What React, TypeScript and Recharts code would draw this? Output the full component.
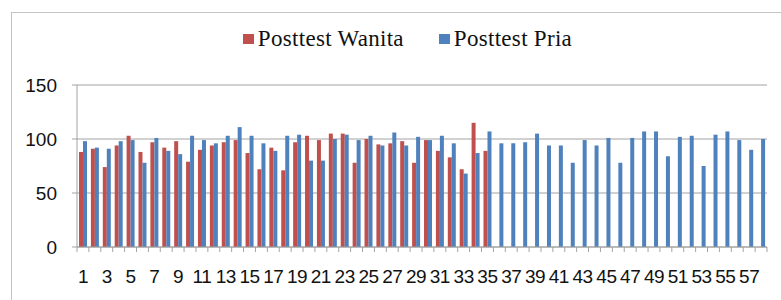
import { BarChart, Bar, XAxis, YAxis, CartesianGrid, Legend } from "recharts";

const categories = Array.from({ length: 58 }, (_, i) => String(i + 1));

const posttestWanita = [
  88, 91, 74, 94, 103, 88, 97, 92, 98, 79, 90, 94, 97, 99, 87, 72, 92, 71, 97, 103,
  99, 105, 105, 78, 100, 95, 96, 98, 78, 99, 89, 83, 72, 115, 89,
];

const posttestPria = [
  98, 92, 91, 98, 99, 78, 101, 89, 86, 103, 99, 96, 103, 111, 103, 96, 89, 103, 104, 80,
  80, 100, 104, 99, 103, 94, 106, 94, 102, 99, 103, 96, 68, 87, 107, 96, 96, 97, 105, 94,
  94, 78, 99, 94, 101, 78, 101, 107, 107, 84, 102, 103, 75, 104, 107, 99, 90, 100,
];

const yTicks = [0, 50, 100, 150];

const data = categories.map((c, i) => ({
  name: c,
  wanita: i < posttestWanita.length ? posttestWanita[i] : null,
  pria: posttestPria[i],
}));

const W = 781;
const H = 300;
const LEFT = 77;
const RIGHT = 14;
const BAND = (W - LEFT - RIGHT) / categories.length;
const GRAY = "#a3a3a3";

const XTick = (props: any) => {
  const { x, y, payload, index } = props;
  return (
    <g>
      {index === 0 && <line x1={x - BAND / 2} x2={x - BAND / 2} y1={y} y2={y + 5} stroke={GRAY} />}
      <line x1={x + BAND / 2} x2={x + BAND / 2} y1={y} y2={y + 5} stroke={GRAY} />
      {index % 2 === 0 && (
        <text x={x} y={y + 36} textAnchor="middle" fontSize={19} fontFamily="Liberation Sans" fill="#111" letterSpacing={-0.5}>
          {payload.value}
        </text>
      )}
    </g>
  );
};

const LegendBox = () => (
  <div
    style={{
      display: "flex",
      justifyContent: "center",
      alignItems: "center",
      fontFamily: "Liberation Serif",
      fontSize: 23,
      letterSpacing: 0.3,
      color: "#111",
      paddingLeft: 34,
    }}
  >
    <span style={{ width: 11, height: 10, background: "#C0504D", marginRight: 4 }} />
    <span style={{ marginRight: 35 }}>Posttest Wanita</span>
    <span style={{ width: 11, height: 10, background: "#4F81BD", marginRight: 4 }} />
    <span>Posttest Pria</span>
  </div>
);

export default function App() {
  return (
    <div style={{ position: "absolute", left: 0, top: 0, width: W, height: H, overflow: "hidden", background: "#fff" }}>
      <div
        style={{
          position: "absolute",
          left: 11,
          top: 12,
          width: W,
          height: H,
          borderLeft: "1px solid #c4c4c4",
          borderTop: "1px solid #c4c4c4",
        }}
      />
      <BarChart
        width={W}
        height={H}
        data={data}
        margin={{ top: 85, right: RIGHT, bottom: 13, left: 0 }}
        barSize={4}
        barGap={0}
      >
        <CartesianGrid vertical={false} stroke={GRAY} strokeWidth={1.2} />
        <XAxis
          dataKey="name"
          interval={0}
          height={40}
          tickSize={0}
          tickMargin={0}
          tickLine={false}
          axisLine={{ stroke: GRAY }}
          tick={<XTick />}
        />
        <YAxis
          width={LEFT}
          domain={[0, 150]}
          ticks={yTicks}
          tickSize={5}
          tickMargin={15}
          tickLine={{ stroke: GRAY }}
          axisLine={{ stroke: GRAY }}
          tick={{ fontSize: 19, fontFamily: "Liberation Sans", fill: "#111" }}
        />
        <Legend
          layout="horizontal"
          verticalAlign="middle"
          align="center"
          wrapperStyle={{ top: 26, left: 0, width: W }}
          content={<LegendBox />}
        />
        <Bar dataKey="wanita" name="Posttest Wanita" fill="#C0504D" isAnimationActive={false} />
        <Bar dataKey="pria" name="Posttest Pria" fill="#4F81BD" isAnimationActive={false} />
      </BarChart>
    </div>
  );
}
